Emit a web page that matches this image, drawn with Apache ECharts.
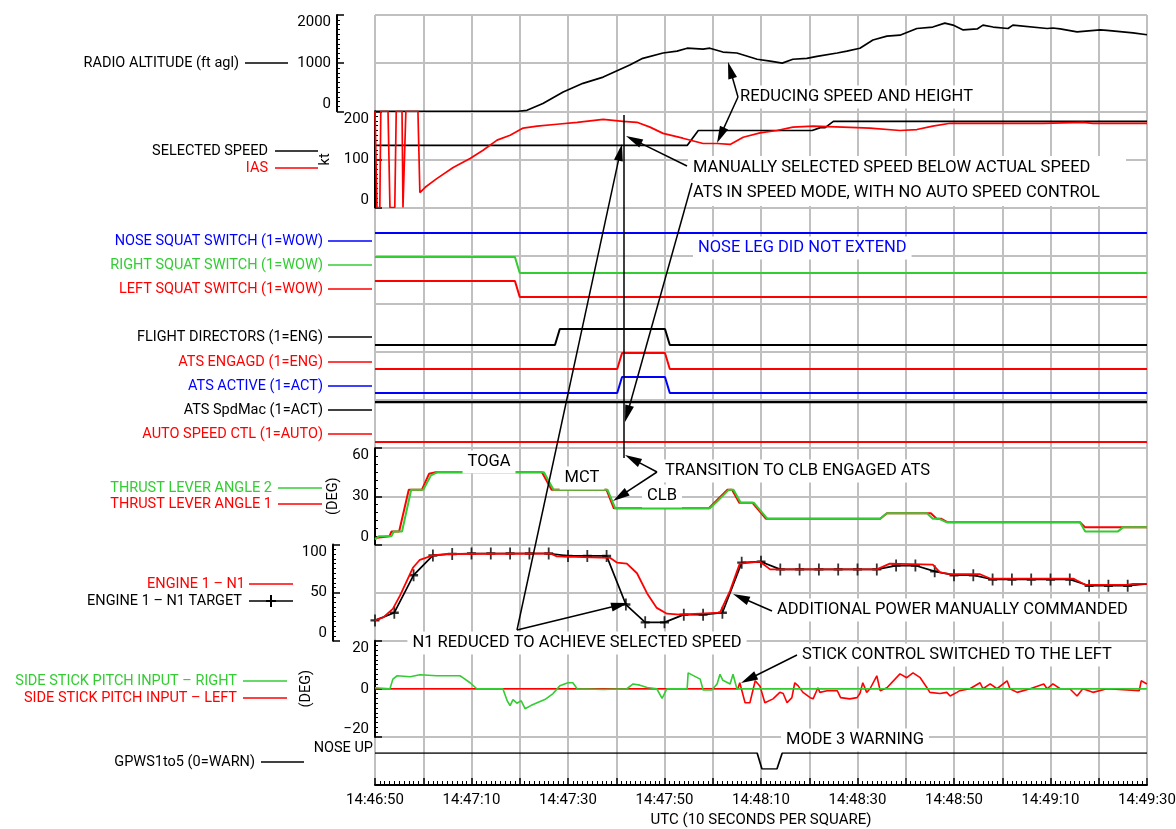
<!DOCTYPE html>
<html>
<head>
<meta charset="UTF-8">
<title>Flight data traces</title>
<script src="https://cdn.jsdelivr.net/npm/echarts@6/dist/echarts.min.js"></script>
<style>
  html, body { margin: 0; padding: 0; background: #fff; }
  #main { width: 1176px; height: 829px; }
</style>
</head>
<body>
<div id="main"></div>
<script>
// x values are seconds after 14:46:50 UTC
var START = 14 * 3600 + 46 * 60 + 50;

var raTime = [0, 29.6, 31.5, 34.8, 39.0, 43.1, 47.3, 52.8, 55.5, 59.7, 62.6, 64.7, 68.0, 69.4, 72.1, 75.0, 79.2, 81.9, 84.4, 86.6, 89.5, 91.6, 95.8, 97.8, 100.5, 103.2, 106.1, 108.8, 112.3, 115.6, 118.1, 119.8, 121.9, 124.8, 126.0, 128.1, 131.2, 132.2, 139.3, 140.5, 142.0, 145.5, 150.3, 151.7, 157.1, 160];
var raFt = [0, 0, 20, 160, 400, 580, 710, 960, 1100, 1210, 1250, 1310, 1290, 1310, 1230, 1210, 1080, 1040, 1000, 1080, 1100, 1140, 1210, 1250, 1310, 1480, 1560, 1580, 1720, 1750, 1830, 1790, 1690, 1710, 1790, 1750, 1720, 1790, 1720, 1730, 1710, 1650, 1690, 1680, 1630, 1590];

var iasTime = [0, 0.4, 1.0, 1.2, 2.7, 3.1, 4.1, 4.4, 5.6, 5.8, 6.2, 6.4, 8.9, 9.3, 10.4, 12.8, 16.2, 19.7, 22.4, 25.3, 28.0, 30.7, 33.6, 37.7, 41.9, 47.3, 51.4, 54.3, 57.0, 59.7, 63.8, 68.0, 70.9, 73.6, 76.3, 79.8, 83.3, 86.6, 90.8, 97.0, 102.6, 108.8, 112.3, 115.6, 119.2, 128.1, 138.4, 146.7, 148.8, 160];
var iasKt = [200, 0, 0, 200, 200, 0, 0, 200, 200, 0, 0, 200, 200, 31, 42, 60, 83, 102, 119, 140, 150, 165, 169, 173, 177, 183, 179, 177, 167, 154, 144, 133, 133, 131, 146, 155, 160, 167, 169, 167, 165, 160, 162, 169, 175, 175, 175, 177, 175, 175];

var selTime = [0, 64.7, 67.0, 90.6, 92.3, 93.3, 95.0, 160];
var selKt = [129, 129, 160, 160, 166, 166, 179, 179];

var noseTime = [0, 160], noseVal = [1, 1];
var rightTime = [0, 29.0, 30.0, 160], rightVal = [1, 1, 0, 0];
var leftTime = [0, 29.0, 30.0, 160], leftVal = [1, 1, 0, 0];
var fdTime = [0, 37.3, 38.3, 60.1, 61.1, 160], fdVal = [0, 0, 1, 1, 0, 0];
var engTime = [0, 50.2, 51.2, 60.1, 61.1, 160], engVal = [0, 0, 1, 1, 0, 0];
var actTime = [0, 50.2, 51.2, 60.1, 61.1, 160], actVal = [0, 0, 1, 1, 0, 0];
var spdMacTime = [0, 160], spdMacVal = [1, 1];
var autoTime = [0, 160], autoVal = [0, 0];

var tla1Time = [0, 0.4, 3.0, 3.4, 5.0, 7.0, 9.7, 11.2, 12.6, 34.6, 36.6, 48.0, 49.5, 69.2, 70.7, 73.0, 74.0, 75.5, 78.2, 81.0, 104.7, 106.1, 115.2, 116.4, 117.3, 118.7, 146.1, 147.2, 160];
var tla1Deg = [4, 5, 5, 8, 8, 34, 34, 44, 45, 45, 34, 34, 22.5, 22.5, 27, 34, 34, 26, 26, 16, 16, 19.4, 19.4, 16, 16, 13.75, 13.75, 10.6, 10.6];
var tla2Time = [0, 0.8, 3.4, 3.9, 5.6, 7.5, 10.0, 11.6, 13.0, 35.0, 37.0, 48.2, 49.8, 69.4, 71.0, 73.3, 74.3, 75.8, 78.5, 81.3, 104.7, 106.1, 114.4, 115.6, 116.8, 118.5, 146.1, 147.2, 154.0, 155.0, 160];
var tla2Deg = [3, 5, 5, 8, 8, 34, 34, 43, 45, 45, 34, 34, 22.5, 22.5, 27, 34, 34, 26, 26, 16, 16, 19.4, 19.4, 16, 16, 13.75, 13.75, 8.1, 8.1, 10.6, 10.6];

var n1Time = [0, 1.7, 3.7, 5.2, 7.9, 9.3, 12.0, 14.9, 36.3, 37.7, 48.7, 50.2, 52.2, 54.3, 56.4, 58.4, 60.5, 63.2, 71.5, 73.6, 75.6, 79.8, 81.9, 104.0, 106.7, 115.6, 117.1, 119.2, 125.4, 127.5, 144.7, 147.2, 155.9, 157.1, 160];
var n1Pct = [21, 24, 33, 47, 76, 84, 88.5, 90, 90.5, 87.5, 86, 81, 80, 70, 49, 34, 28, 27, 29, 52, 80, 82, 74, 74, 80, 79, 71, 69, 69, 64.5, 64.5, 58, 58, 59, 59];

var tgtTime = [0, 4, 8, 12, 16, 20, 24, 28, 32, 36, 40, 44, 48, 52, 56, 60, 64, 68, 72, 76, 80, 84, 88, 92, 96, 100, 104, 108, 112, 116, 120, 124, 128, 132, 136, 140, 144, 148, 152, 156, 160];
var tgtPct = [21, 29, 68, 88.5, 90, 90.5, 90.5, 90.5, 90.5, 90.5, 88, 88, 88, 37.5, 19, 19, 27, 27, 29, 81, 82, 74, 74, 74, 74, 74, 74, 78, 78, 72, 68, 68, 63.5, 63.5, 63.5, 63.5, 63.5, 57, 57, 57, 59];

var stkRTime = [0, 3.1, 3.7, 4.6, 7.3, 9.3, 12.8, 17.6, 18.2, 19.7, 21.1, 26.5, 27.4, 28.0, 28.6, 29.4, 30.3, 31.1, 32.3, 33.6, 35.2, 36.9, 38.3, 40.0, 41.0, 41.9, 47.3, 52.2, 53.5, 54.9, 56.4, 58.4, 59.5, 60.5, 64.7, 64.9, 67.4, 68.0, 69.8, 70.9, 71.5, 72.1, 73.6, 74.2, 75.0, 160];
var stkRDeg = [0.4, 0, 4, 5.4, 5, 5.8, 5.4, 5.4, 4.6, 2.5, 0, 0, -5, -7, -4.5, -6, -5, -8.3, -7, -5.8, -4.5, -2, 1.2, 2.5, 2.5, 0, -0.3, 0, 2, 1.5, 0.5, 0, -4, 0, 0, 6.6, 4, -0.5, -0.5, 2, 6, 3.5, 2, 6, 0, 0];
var stkLTime = [0, 75.2, 75.6, 76.7, 77.7, 78.8, 79.8, 80.8, 82.5, 83.9, 84.6, 85.4, 86.4, 87.0, 87.7, 88.1, 88.7, 90.2, 90.8, 91.8, 92.2, 93.7, 95.8, 96.5, 98.4, 99.9, 100.5, 101.1, 101.9, 102.6, 104.0, 104.7, 106.1, 108.8, 110.2, 111.5, 113.0, 114.4, 115.0, 117.1, 118.5, 119.2, 120.6, 121.2, 123.3, 125.4, 126.0, 127.5, 128.9, 131.0, 131.6, 133.1, 135.8, 138.6, 139.3, 140.5, 142.0, 144.0, 145.5, 146.7, 148.8, 151.7, 158.4, 158.8, 160];
var stkLDeg = [0, 0, 2.5, -5.8, -5.8, 3.3, 1, -5.8, -4.2, -1.5, -2, -5.8, -3.7, 2.5, 1.2, 2, -1.5, -3.7, -4.2, 0.4, -1.5, -0.8, -0.8, -3.7, -4.2, -3.7, -2, 2.5, -1.5, 0, 5.4, -0.8, 0.4, 6.2, 4.6, 6.6, 4.6, 0.4, -1.5, -2, -1.5, -3, -1.5, -0.8, 0, 2.5, 0, 2, 0, 3.3, 0, -1.5, 0, 2, 0, 2, 0, 0, -3, 0, -1.5, 0, -0.8, 3.3, 2];

var gpwsTime = [0, 79.2, 80.2, 83.3, 84.4, 160], gpwsVal = [1, 1, 0, 0, 1, 1];

var RED = '#ff0000', GREEN = '#33cc33', BLUE = '#0000ff', BLACK = '#000000', GRID = '#c0c0c0';
var FONT = 'Roboto';

function pairs(t, v) {
  return t.map(function (x, i) { return [x, v[i]]; });
}
function pad(n) { return (n < 10 ? '0' : '') + n; }
function clock(v) {
  var s = START + v;
  return Math.floor(s / 3600) + ':' + pad(Math.floor(s % 3600 / 60)) + ':' + pad(s % 60);
}

var SQ = 770 / 16;
// panel rows: [top, height]
var rows = [
  [15, 770],            // 0 background squares + time axis
  [15, 2 * SQ],         // 1 radio altitude
  [15 + 2 * SQ, 2 * SQ],// 2 speed
  [233, 16],            // 3 nose squat
  [257, 16],            // 4 right squat
  [281, 16],            // 5 left squat
  [329, 16],            // 6 flight directors
  [353, 16],            // 7 ats engaged
  [377, 16],            // 8 ats active
  [402, 16],            // 9 ats spdmac
  [426, 16],            // 10 auto speed ctl
  [15 + 9 * SQ, 2 * SQ],  // 11 thrust lever angle
  [15 + 11 * SQ, 2 * SQ], // 12 N1
  [15 + 13 * SQ, 2 * SQ], // 13 side stick
  [753, 16]             // 14 gpws
];

var grids = rows.map(function (r) {
  return { left: 375, width: 772, top: r[0], height: r[1], containLabel: false, outerBoundsMode: 'none' };
});

var xAxes = rows.map(function (r, i) {
  return { gridIndex: i, type: 'value', min: 0, max: 160, show: false };
});
xAxes[0] = {
  gridIndex: 0, type: 'value', min: 0, max: 160, interval: 10,
  axisLine: { show: true, onZero: false, lineStyle: { color: BLACK, width: 2 } },
  axisTick: { show: true, inside: true, length: 7, lineStyle: { color: BLACK, width: 1.5 } },
  minorTick: { show: true, splitNumber: 10, length: 4, lineStyle: { color: BLACK, width: 1 } },
  splitLine: { show: true, lineStyle: { color: GRID, width: 2 } },
  axisLabel: {
    formatter: function (v) { return v % 20 === 0 ? clock(v) : ''; },
    fontSize: 15, fontFamily: FONT, color: BLACK, margin: 8
  },
  name: 'UTC (10 SECONDS PER SQUARE)', nameLocation: 'middle', nameGap: 28,
  nameTextStyle: { fontSize: 15, fontFamily: FONT, color: BLACK }
};

function scaleAxis(i, min, max, interval, minorSplit, offset, name, nameGap) {
  return {
    gridIndex: i, type: 'value', min: min, max: max, interval: interval,
    position: 'left', offset: offset,
    axisLine: { show: true, onZero: false, lineStyle: { color: BLACK, width: 2 } },
    axisTick: { show: true, inside: true, length: 7, lineStyle: { color: BLACK, width: 1.5 } },
    minorTick: { show: true, splitNumber: minorSplit, length: 3, lineStyle: { color: BLACK, width: 1 } },
    splitLine: { show: false },
    axisLabel: {
      fontSize: 15, fontFamily: FONT, color: BLACK, margin: 6,
      formatter: function (v) { return String(v).replace('-', '\u2212'); },
      verticalAlignMinLabel: 'bottom', verticalAlignMaxLabel: 'top'
    },
    name: name || '', nameLocation: 'middle', nameGap: nameGap || 0, nameRotate: 90,
    nameTextStyle: { fontSize: 14.5, fontFamily: FONT, color: BLACK }
  };
}

var yAxes = rows.map(function (r, i) {
  return { gridIndex: i, type: 'value', min: 0, max: 1, show: false };
});
yAxes[0] = {
  gridIndex: 0, type: 'value', min: 0, max: 16, interval: 1,
  axisLine: { show: false, onZero: false }, axisTick: { show: false }, axisLabel: { show: false },
  splitLine: { show: true, lineStyle: { color: GRID, width: 2 } }
};
yAxes[1] = scaleAxis(1, 0, 2000, 1000, 10, 38);
yAxes[2] = scaleAxis(2, 0, 200, 100, 10, 0, 'kt', 28);
yAxes[11] = scaleAxis(11, 0, 60, 30, 6, 0, '(DEG)', 27);
yAxes[12] = scaleAxis(12, 0, 100, 50, 10, 42);
yAxes[13] = scaleAxis(13, -20, 20, 20, 10, 0, '(DEG)', 61);

function line(i, t, v, color, width) {
  return {
    type: 'line', xAxisIndex: i, yAxisIndex: i, data: pairs(t, v),
    showSymbol: false, symbol: 'none', silent: true, animation: false,
    lineStyle: { color: color, width: width || 1.5 }, itemStyle: { color: color }
  };
}

var PLUS = 'path://M4,0h2v4h4v2h-4v4h-2v-4h-4v-2h4z';

var series = [
  line(1, raTime, raFt, BLACK, 1.7),
  line(2, selTime, selKt, BLACK, 1.7),
  line(2, iasTime, iasKt, RED, 1.7),
  line(3, noseTime, noseVal, BLUE, 2),
  line(4, rightTime, rightVal, GREEN, 2),
  line(5, leftTime, leftVal, RED, 2),
  line(6, fdTime, fdVal, BLACK, 2),
  line(7, engTime, engVal, RED, 2),
  line(8, actTime, actVal, BLUE, 2),
  line(9, spdMacTime, spdMacVal, BLACK, 2.5),
  line(10, autoTime, autoVal, RED, 2),
  line(11, tla1Time, tla1Deg, RED, 2),
  line(11, tla2Time, tla2Deg, GREEN, 2),
  line(12, tgtTime, tgtPct, BLACK, 1.7),
  line(12, n1Time, n1Pct, RED, 1.8),
  {
    type: 'scatter', xAxisIndex: 12, yAxisIndex: 12, silent: true, animation: false,
    data: pairs(tgtTime.slice(0, -1), tgtPct.slice(0, -1)),
    symbol: PLUS, symbolSize: [9, 12], itemStyle: { color: BLACK }
  },
  line(13, stkLTime, stkLDeg, RED, 1.6),
  line(13, stkRTime, stkRDeg, GREEN, 1.6),
  line(14, gpwsTime, gpwsVal, BLACK, 1.7)
];

// ---- side labels and annotation graphics ----
var g = [];
function label(text, color, y, tx, x1, x2) {
  g.push({ type: 'text', x: tx, y: y, z: 50,
    style: { text: text, fill: color, font: '14.5px ' + FONT, align: 'right', verticalAlign: 'middle' } });
  g.push({ type: 'line', z: 50, shape: { x1: x1, y1: y, x2: x2, y2: y },
    style: { stroke: color, lineWidth: 1.5 } });
}
function note(text, x, y, color, align) {
  g.push({ type: 'text', x: x, y: y, z: 60,
    style: { text: text, fill: color || BLACK, font: '16.5px ' + FONT, align: align || 'left',
      verticalAlign: 'middle', backgroundColor: '#fff', padding: [3, 5] } });
}
function seg(x1, y1, x2, y2) {
  g.push({ type: 'line', z: 70, shape: { x1: x1, y1: y1, x2: x2, y2: y2 },
    style: { stroke: BLACK, lineWidth: 1.5 } });
}
function arrow(x1, y1, x2, y2) {
  var dx = x2 - x1, dy = y2 - y1, len = Math.sqrt(dx * dx + dy * dy);
  var ux = dx / len, uy = dy / len, hl = 17, hw = 4.5;
  var bx = x2 - ux * hl, by = y2 - uy * hl;
  seg(x1, y1, bx + ux * 2, by + uy * 2);
  g.push({ type: 'polygon', z: 70,
    shape: { points: [[x2, y2], [bx - uy * hw, by + ux * hw], [bx + uy * hw, by - ux * hw]] },
    style: { fill: BLACK } });
}

label('RADIO ALTITUDE (ft agl)', BLACK, 63, 239, 245, 288);
label('SELECTED SPEED', BLACK, 151, 268, 275, 318);
label('IAS', RED, 168, 268, 275, 318);
label('NOSE SQUAT SWITCH (1=WOW)', BLUE, 241, 323, 328, 372);
label('RIGHT SQUAT SWITCH (1=WOW)', GREEN, 265, 323, 328, 372);
label('LEFT SQUAT SWITCH (1=WOW)', RED, 289, 323, 328, 372);
label('FLIGHT DIRECTORS (1=ENG)', BLACK, 337, 323, 328, 372);
label('ATS ENGAGD (1=ENG)', RED, 362, 323, 328, 372);
label('ATS ACTIVE (1=ACT)', BLUE, 386, 323, 328, 372);
label('ATS SpdMac (1=ACT)', BLACK, 410, 323, 328, 372);
label('AUTO SPEED CTL (1=AUTO)', RED, 434, 323, 328, 372);
label('THRUST LEVER ANGLE 2', GREEN, 488, 272, 278, 322);
label('THRUST LEVER ANGLE 1', RED, 504, 272, 278, 322);
label('ENGINE 1 \u2013 N1', RED, 584, 245, 249, 293);
label('ENGINE 1 \u2013 N1 TARGET', BLACK, 601, 242, 249, 293);
g.push({ type: 'polygon', z: 55,
  shape: { points: [[270, 595], [272, 595], [272, 600], [276, 600], [276, 602], [272, 602], [272, 607], [270, 607], [270, 602], [266, 602], [266, 600], [270, 600]] },
  style: { fill: BLACK } });
label('SIDE STICK PITCH INPUT \u2013 RIGHT', GREEN, 681, 237, 243, 287);
label('SIDE STICK PITCH INPUT \u2013 LEFT', RED, 698, 237, 243, 287);
label('GPWS1to5 (0=WARN)', BLACK, 762, 255, 261, 304);
g.push({ type: 'text', x: 373, y: 748, z: 50,
  style: { text: 'NOSE UP', fill: BLACK, font: '14.5px ' + FONT, align: 'right', verticalAlign: 'middle' } });

// annotations
note('REDUCING SPEED AND HEIGHT', 735, 97);
arrow(738, 97, 728, 62);
arrow(738, 97, 717, 143);

g.push({ type: 'rect', z: 58, shape: { x: 688, y: 156, width: 438, height: 50 }, style: { fill: '#fff' } });
g.push({ type: 'text', x: 693, y: 168, z: 60,
  style: { text: 'MANUALLY SELECTED SPEED BELOW ACTUAL SPEED', fill: BLACK, font: '16.5px ' + FONT, verticalAlign: 'middle' } });
g.push({ type: 'text', x: 693, y: 193, z: 60,
  style: { text: 'ATS IN SPEED MODE, WITH NO AUTO SPEED CONTROL', fill: BLACK, font: '16.5px ' + FONT, verticalAlign: 'middle' } });
arrow(687, 166, 626, 136);
arrow(692, 183, 625, 422);

seg(624, 115, 624, 458);

note('NOSE LEG DID NOT EXTEND', 693, 248, BLUE);

note('TOGA', 489, 462, BLACK, 'center');
note('MCT', 582, 478, BLACK, 'center');
note('CLB', 662, 496, BLACK, 'center');
note('TRANSITION TO CLB ENGAGED ATS', 660, 471);
arrow(657, 472, 625, 455);
arrow(657, 472, 613, 501);

note('N1 REDUCED TO ACHIEVE SELECTED SPEED', 577, 643, BLACK, 'center');
arrow(517, 630, 622, 144);
arrow(517, 630, 628, 603);

note('ADDITIONAL POWER MANUALLY COMMANDED', 772, 610);
arrow(772, 611, 733, 594);

note('STICK CONTROL SWITCHED TO THE LEFT', 797, 655);
arrow(797, 655, 741, 683);

note('MODE 3 WARNING', 781, 740);

var myChart = echarts.init(document.getElementById('main'));
var option = {
  animation: false,
  backgroundColor: '#fff',
  textStyle: { fontFamily: FONT },
  grid: grids,
  xAxis: xAxes,
  yAxis: yAxes,
  series: series,
  graphic: { elements: g }
};
myChart.setOption(option);
</script>
</body>
</html>
